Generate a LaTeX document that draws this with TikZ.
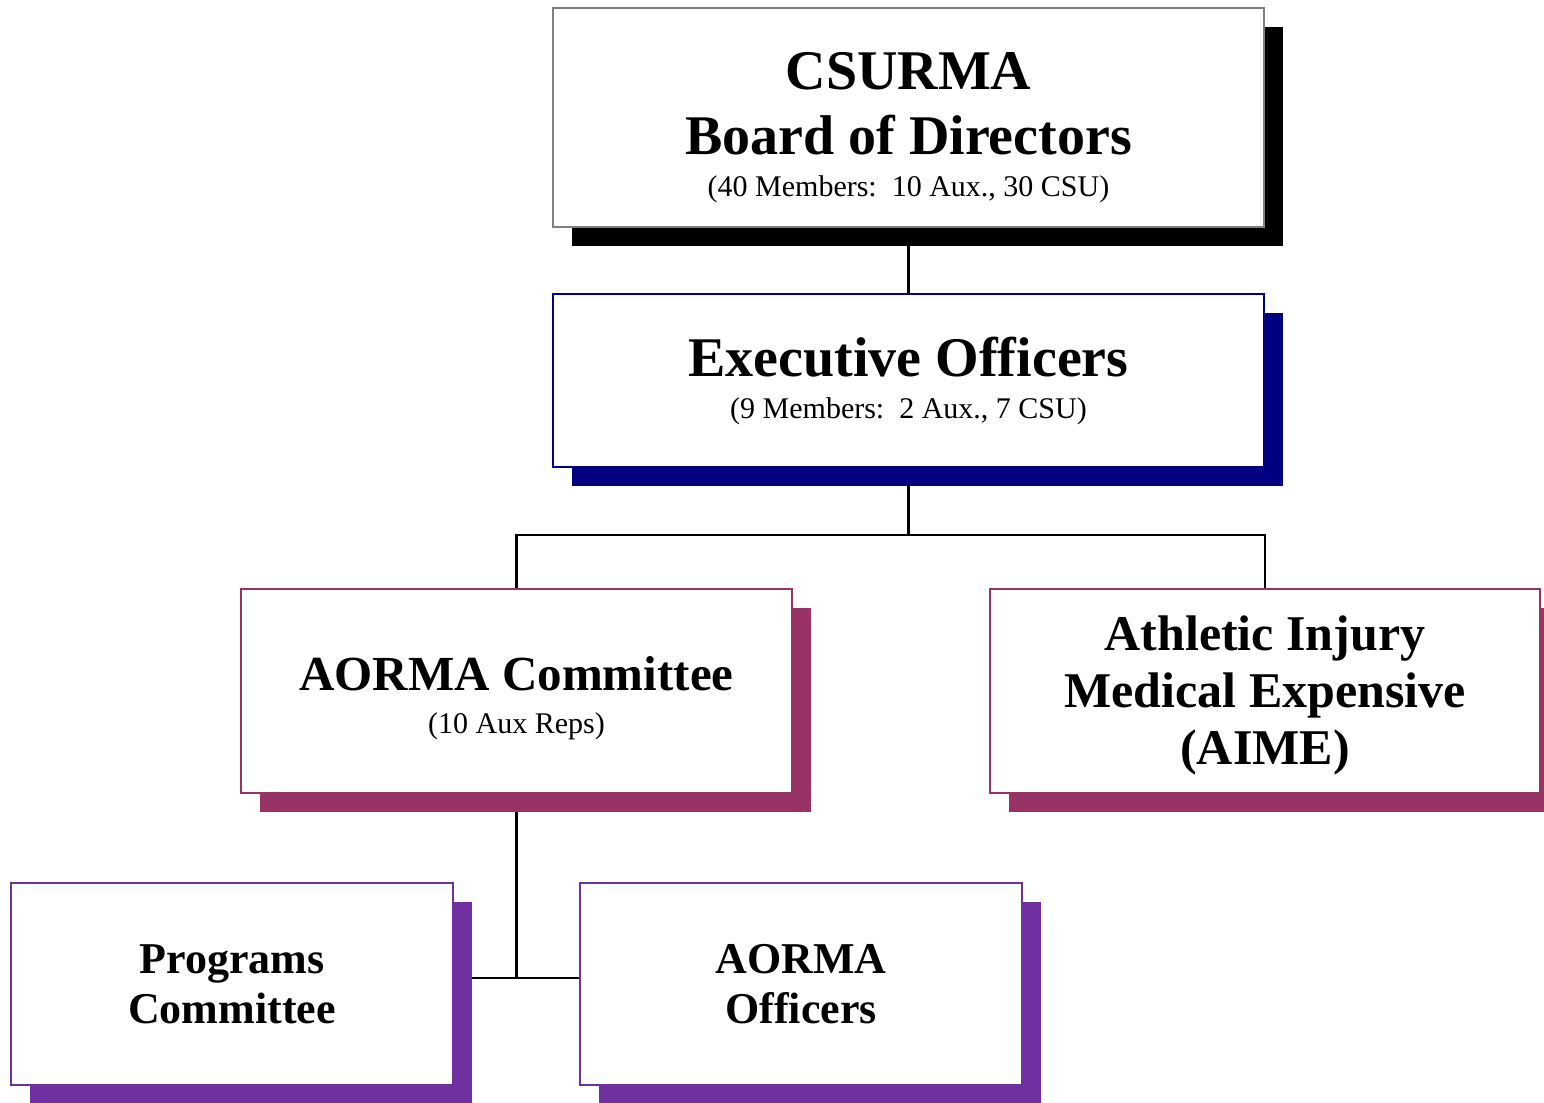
\documentclass[tikz,border=0pt]{standalone}
\usepackage{fontspec}
\setmainfont{Liberation Serif}
\usetikzlibrary{shadows,backgrounds}
\definecolor{navyblue}{RGB}{0,0,128}
\definecolor{plum}{RGB}{153,51,102}
\definecolor{violet}{RGB}{112,48,160}
\tikzset{
  orgbox/.style 2 args={draw=#1, fill=white, line width=0.8pt, align=center,
    inner sep=0pt,
    drop shadow={shadow xshift=9.5pt, shadow yshift=-9.5pt, fill=#2, opacity=1}},
  link/.style={draw=black, line width=1.3pt}
}
\begin{document}
\begin{tikzpicture}[x=0.5pt, y=-0.5pt]
  \useasboundingbox (0,0) rectangle (1544,1103);
  \clip (0,0) rectangle (1544,1103);
  \begin{scope}[on background layer]
    \fill[white] (0,0) rectangle (1544,1103);
  \end{scope}

  % board of directors
  \node[orgbox={gray}{black}, minimum width=355.5pt, minimum height=109.5pt,
        font=\bfseries\fontsize{28}{32.5}\selectfont] (board) at (908.5,117.5)
    {\rule{0pt}{29pt}CSURMA\\Board of Directors\\[-11.5pt]
     {\mdseries\fontsize{15}{16}\selectfont (40 Members:\ \ 10 Aux., 30 CSU)}};

  % executive officers
  \node[orgbox={navyblue}{navyblue}, minimum width=355.5pt, minimum height=86.5pt,
        font=\bfseries\fontsize{28}{32.5}\selectfont] (exec) at (908.5,380.5)
    {Executive Officers\\[-11.5pt]
     {\mdseries\fontsize{15}{16}\selectfont (9 Members:\ \ 2 Aux., 7 CSU)}};

  % committees
  \node[orgbox={plum}{plum}, minimum width=275.5pt, minimum height=102pt,
        font=\bfseries\fontsize{24.5}{28}\selectfont] (aorma) at (516.5,691)
    {\rule{0pt}{24pt}AORMA Committee\\[-6.5pt]
     {\mdseries\fontsize{15}{16}\selectfont (10 Aux Reps)}};

  \node[orgbox={plum}{plum}, minimum width=275pt, minimum height=102pt,
        font=\bfseries\fontsize{25}{28.5}\selectfont] (aime) at (1265,691)
    {\rule{0pt}{22pt}Athletic Injury\\Medical Expensive\\(AIME)};

  \node[orgbox={violet}{violet}, minimum width=221pt, minimum height=101pt,
        font=\bfseries\fontsize{22}{25}\selectfont] (prog) at (232,984)
    {Programs\\Committee};

  \node[orgbox={violet}{violet}, minimum width=221pt, minimum height=101pt,
        font=\bfseries\fontsize{22}{25}\selectfont] (off) at (801,984)
    {AORMA\\Officers};

  % connectors
  \coordinate (split) at (908.5,535);
  \coordinate (tee) at (516.5,978);
  \begin{scope}[on background layer]
    \draw[link] (board) -- (exec);
    \draw[link] (exec) -- (split);
    \draw[link] (aorma.north) |- (split) -| (aime.north);
    \draw[link] (aorma) -- (tee);
    \draw[link] (prog.east |- tee) -- (off.west |- tee);
  \end{scope}
\end{tikzpicture}
\end{document}
